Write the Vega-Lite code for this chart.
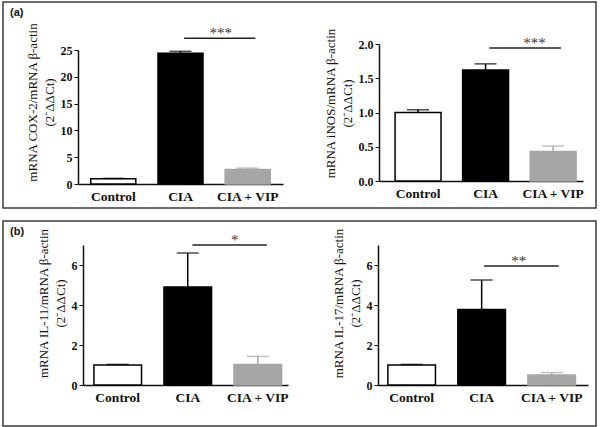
{
  "$schema": "https://vega.github.io/schema/vega-lite/v6.json",
  "padding": {"left": 2, "top": 1, "right": 0, "bottom": 0},
  "spacing": 11,
  "background": "white",
  "datasets": {
    "bars": [
      {"chart": "COX-2", "group": "Control", "value": 1.0, "err": 1.05},
      {"chart": "COX-2", "group": "CIA", "value": 24.4, "err": 24.75},
      {"chart": "COX-2", "group": "CIA + VIP", "value": 2.7, "err": 2.95},
      {"chart": "iNOS", "group": "Control", "value": 1.0, "err": 1.04},
      {"chart": "iNOS", "group": "CIA", "value": 1.62, "err": 1.71},
      {"chart": "iNOS", "group": "CIA + VIP", "value": 0.43, "err": 0.51},
      {"chart": "IL-11", "group": "Control", "value": 1.0, "err": 1.03},
      {"chart": "IL-11", "group": "CIA", "value": 4.9, "err": 6.6},
      {"chart": "IL-11", "group": "CIA + VIP", "value": 1.02, "err": 1.43},
      {"chart": "IL-17", "group": "Control", "value": 1.0, "err": 1.03},
      {"chart": "IL-17", "group": "CIA", "value": 3.78, "err": 5.25},
      {"chart": "IL-17", "group": "CIA + VIP", "value": 0.5, "err": 0.62}
    ],
    "sig": [
      {"chart": "COX-2", "from": "CIA", "to": "CIA + VIP", "level": 27.2, "label": "***"},
      {"chart": "iNOS", "from": "CIA", "to": "CIA + VIP", "level": 1.94, "label": "***"},
      {"chart": "IL-11", "from": "CIA", "to": "CIA + VIP", "level": 7.0, "label": "*"},
      {"chart": "IL-17", "from": "CIA", "to": "CIA + VIP", "level": 5.95, "label": "**"}
    ]
  },
  "config": {
    "font": "Liberation Serif",
    "view": {"stroke": "#3a3a3a", "strokeWidth": 1.5},
    "axis": {"grid": false, "domainColor": "#111111", "domainWidth": 1.5, "tickColor": "#111111", "tickWidth": 1, "labelFont": "Liberation Serif", "labelFontWeight": "bold", "labelColor": "#111111", "titleFont": "Liberation Serif", "titleFontWeight": "normal", "titleColor": "#111111"},
    "axisX": {"ticks": false, "labelFontSize": 13.5, "labelPadding": 5, "labelAngle": 0},
    "axisY": {"tickSize": 4, "labelFontSize": 12, "labelPadding": 2, "titleFontSize": 13, "titleLineHeight": 17, "titlePadding": 4}
  },
  "vconcat": [
    {
      "width": 593,
      "height": 206,
      "title": {"text": "(a)", "anchor": "start", "frame": "group", "offset": -16, "dx": 7, "font": "Liberation Sans", "fontSize": 11, "fontWeight": "bold", "color": "#111111"},
      "resolve": {"scale": {"x": "independent", "y": "independent"}},
      "layer": [
        {
          "data": {"name": "bars"},
          "transform": [{"filter": "datum.chart == 'COX-2'"}],
          "mark": {"type": "bar", "strokeWidth": 1.5},
          "encoding": {
            "x": {"field": "group", "type": "nominal", "title": null, "scale": {"domain": ["Control", "CIA", "CIA + VIP"], "range": [75, 280], "paddingInner": 0.33, "paddingOuter": 0.19, "align": 0.5}, "axis": {"orient": "bottom", "offset": -24}},
            "y": {"field": "value", "type": "quantitative", "scale": {"domain": [0, 25], "range": [182, 48], "nice": false}, "axis": {"orient": "left", "offset": -75, "values": [0, 5, 10, 15, 20, 25], "title": ["mRNA COX-2/mRNA β-actin", "(2⁻ΔΔCt)"], "titleY": 100}},
            "fill": {"field": "group", "type": "nominal", "scale": {"domain": ["Control", "CIA", "CIA + VIP"], "range": ["#ffffff", "#000000", "#a6a6a6"]}, "legend": null},
            "stroke": {"field": "group", "type": "nominal", "scale": {"domain": ["Control", "CIA", "CIA + VIP"], "range": ["#000000", "#000000", "#a6a6a6"]}, "legend": null}
          }
        },
        {
          "data": {"name": "bars"},
          "transform": [{"filter": "datum.chart == 'COX-2'"}],
          "mark": {"type": "rule", "strokeWidth": 1.5},
          "encoding": {
            "x": {"field": "group", "type": "nominal", "scale": {"domain": ["Control", "CIA", "CIA + VIP"], "range": [75, 280], "paddingInner": 0.33, "paddingOuter": 0.19, "align": 0.5}, "axis": null},
            "y": {"field": "value", "type": "quantitative", "scale": {"domain": [0, 25], "range": [182, 48], "nice": false}, "axis": null},
            "y2": {"field": "err"},
            "stroke": {"field": "group", "type": "nominal", "legend": null}
          }
        },
        {
          "data": {"name": "bars"},
          "transform": [{"filter": "datum.chart == 'COX-2'"}],
          "mark": {"type": "tick", "size": 22, "thickness": 1.5, "orient": "horizontal"},
          "encoding": {
            "x": {"field": "group", "type": "nominal", "scale": {"domain": ["Control", "CIA", "CIA + VIP"], "range": [75, 280], "paddingInner": 0.33, "paddingOuter": 0.19, "align": 0.5}, "axis": null},
            "y": {"field": "err", "type": "quantitative", "scale": {"domain": [0, 25], "range": [182, 48], "nice": false}, "axis": null},
            "color": {"field": "group", "type": "nominal", "scale": {"domain": ["Control", "CIA", "CIA + VIP"], "range": ["#000000", "#000000", "#a6a6a6"]}, "legend": null}
          }
        },
        {
          "data": {"name": "sig"},
          "transform": [{"filter": "datum.chart == 'COX-2'"}],
          "mark": {"type": "rule", "strokeWidth": 1.5, "color": "#222222"},
          "encoding": {
            "x": {"field": "from", "type": "nominal", "bandPosition": 0.58, "scale": {"domain": ["Control", "CIA", "CIA + VIP"], "range": [75, 280], "paddingInner": 0.33, "paddingOuter": 0.19, "align": 0.5}, "axis": null},
            "x2": {"field": "to", "bandPosition": 0.67},
            "y": {"field": "level", "type": "quantitative", "scale": {"domain": [0, 25], "range": [182, 48], "nice": false}, "axis": null}
          }
        },
        {
          "data": {"name": "sig"},
          "transform": [{"filter": "datum.chart == 'COX-2'"}],
          "mark": {"type": "text", "font": "Liberation Serif", "fontSize": 15, "color": "#333333", "baseline": "alphabetic", "align": "center"},
          "encoding": {
            "x": {"field": "to", "type": "nominal", "scale": {"domain": ["Control", "CIA", "CIA + VIP"], "range": [75, 280], "paddingInner": 0.33, "paddingOuter": 0.19, "align": 0.5}, "axis": null},
            "xOffset": {"value": -28},
            "y": {"field": "level", "type": "quantitative", "scale": {"domain": [0, 25], "range": [182, 48], "nice": false}, "axis": null},
            "text": {"field": "label"}
          }
        },
        {
          "data": {"name": "bars"},
          "transform": [{"filter": "datum.chart == 'iNOS'"}],
          "mark": {"type": "bar", "strokeWidth": 1.5},
          "encoding": {
            "x": {"field": "group", "type": "nominal", "title": null, "scale": {"domain": ["Control", "CIA", "CIA + VIP"], "range": [376, 580], "paddingInner": 0.32, "paddingOuter": 0.17, "align": 0.7}, "axis": {"orient": "bottom", "offset": -27}},
            "y": {"field": "value", "type": "quantitative", "scale": {"domain": [0, 2], "range": [179, 42], "nice": false}, "axis": {"orient": "left", "offset": -376, "values": [0, 0.5, 1, 1.5, 2], "format": ".1f", "title": ["mRNA iNOS/mRNA β-actin", "(2⁻ΔΔCt)"], "titleY": 101}},
            "fill": {"field": "group", "type": "nominal", "legend": null},
            "stroke": {"field": "group", "type": "nominal", "legend": null}
          }
        },
        {
          "data": {"name": "bars"},
          "transform": [{"filter": "datum.chart == 'iNOS'"}],
          "mark": {"type": "rule", "strokeWidth": 1.5},
          "encoding": {
            "x": {"field": "group", "type": "nominal", "scale": {"domain": ["Control", "CIA", "CIA + VIP"], "range": [376, 580], "paddingInner": 0.32, "paddingOuter": 0.17, "align": 0.7}, "axis": null},
            "y": {"field": "value", "type": "quantitative", "scale": {"domain": [0, 2], "range": [179, 42], "nice": false}, "axis": null},
            "y2": {"field": "err"},
            "stroke": {"field": "group", "type": "nominal", "legend": null}
          }
        },
        {
          "data": {"name": "bars"},
          "transform": [{"filter": "datum.chart == 'iNOS'"}],
          "mark": {"type": "tick", "size": 22, "thickness": 1.5, "orient": "horizontal"},
          "encoding": {
            "x": {"field": "group", "type": "nominal", "scale": {"domain": ["Control", "CIA", "CIA + VIP"], "range": [376, 580], "paddingInner": 0.32, "paddingOuter": 0.17, "align": 0.7}, "axis": null},
            "y": {"field": "err", "type": "quantitative", "scale": {"domain": [0, 2], "range": [179, 42], "nice": false}, "axis": null},
            "color": {"field": "group", "type": "nominal", "legend": null}
          }
        },
        {
          "data": {"name": "sig"},
          "transform": [{"filter": "datum.chart == 'iNOS'"}],
          "mark": {"type": "rule", "strokeWidth": 1.5, "color": "#222222"},
          "encoding": {
            "x": {"field": "from", "type": "nominal", "bandPosition": 0.58, "scale": {"domain": ["Control", "CIA", "CIA + VIP"], "range": [376, 580], "paddingInner": 0.32, "paddingOuter": 0.17, "align": 0.7}, "axis": null},
            "x2": {"field": "to", "bandPosition": 0.67},
            "y": {"field": "level", "type": "quantitative", "scale": {"domain": [0, 2], "range": [179, 42], "nice": false}, "axis": null}
          }
        },
        {
          "data": {"name": "sig"},
          "transform": [{"filter": "datum.chart == 'iNOS'"}],
          "mark": {"type": "text", "font": "Liberation Serif", "fontSize": 15, "color": "#333333", "baseline": "alphabetic", "align": "center"},
          "encoding": {
            "x": {"field": "to", "type": "nominal", "scale": {"domain": ["Control", "CIA", "CIA + VIP"], "range": [376, 580], "paddingInner": 0.32, "paddingOuter": 0.17, "align": 0.7}, "axis": null},
            "xOffset": {"value": -28},
            "y": {"field": "level", "type": "quantitative", "scale": {"domain": [0, 2], "range": [179, 42], "nice": false}, "axis": null},
            "text": {"field": "label"}
          }
        }
      ]
    },
    {
      "width": 593,
      "height": 205,
      "title": {"text": "(b)", "anchor": "start", "frame": "group", "offset": -16, "dx": 7, "font": "Liberation Sans", "fontSize": 11, "fontWeight": "bold", "color": "#111111"},
      "resolve": {"scale": {"x": "independent", "y": "independent"}},
      "layer": [
        {
          "data": {"name": "bars"},
          "transform": [{"filter": "datum.chart == 'IL-11'"}],
          "mark": {"type": "bar", "strokeWidth": 1.5},
          "encoding": {
            "x": {"field": "group", "type": "nominal", "title": null, "scale": {"domain": ["Control", "CIA", "CIA + VIP"], "range": [80, 285], "paddingInner": 0.32, "paddingOuter": 0.124, "align": 0.63}, "axis": {"orient": "bottom", "offset": -41}},
            "y": {"field": "value", "type": "quantitative", "scale": {"domain": [0, 7], "range": [164, 24], "nice": false}, "axis": {"orient": "left", "offset": -80, "values": [0, 2, 4, 6], "title": ["mRNA IL-11/mRNA β-actin", "(2⁻ΔΔCt)"], "titleY": 82}},
            "fill": {"field": "group", "type": "nominal", "scale": {"domain": ["Control", "CIA", "CIA + VIP"], "range": ["#ffffff", "#000000", "#a6a6a6"]}, "legend": null},
            "stroke": {"field": "group", "type": "nominal", "scale": {"domain": ["Control", "CIA", "CIA + VIP"], "range": ["#000000", "#000000", "#a6a6a6"]}, "legend": null}
          }
        },
        {
          "data": {"name": "bars"},
          "transform": [{"filter": "datum.chart == 'IL-11'"}],
          "mark": {"type": "rule", "strokeWidth": 1.5},
          "encoding": {
            "x": {"field": "group", "type": "nominal", "scale": {"domain": ["Control", "CIA", "CIA + VIP"], "range": [80, 285], "paddingInner": 0.32, "paddingOuter": 0.124, "align": 0.63}, "axis": null},
            "y": {"field": "value", "type": "quantitative", "scale": {"domain": [0, 7], "range": [164, 24], "nice": false}, "axis": null},
            "y2": {"field": "err"},
            "stroke": {"field": "group", "type": "nominal", "legend": null}
          }
        },
        {
          "data": {"name": "bars"},
          "transform": [{"filter": "datum.chart == 'IL-11'"}],
          "mark": {"type": "tick", "size": 22, "thickness": 1.5, "orient": "horizontal"},
          "encoding": {
            "x": {"field": "group", "type": "nominal", "scale": {"domain": ["Control", "CIA", "CIA + VIP"], "range": [80, 285], "paddingInner": 0.32, "paddingOuter": 0.124, "align": 0.63}, "axis": null},
            "y": {"field": "err", "type": "quantitative", "scale": {"domain": [0, 7], "range": [164, 24], "nice": false}, "axis": null},
            "color": {"field": "group", "type": "nominal", "scale": {"domain": ["Control", "CIA", "CIA + VIP"], "range": ["#000000", "#000000", "#a6a6a6"]}, "legend": null}
          }
        },
        {
          "data": {"name": "sig"},
          "transform": [{"filter": "datum.chart == 'IL-11'"}],
          "mark": {"type": "rule", "strokeWidth": 1.5, "color": "#222222"},
          "encoding": {
            "x": {"field": "from", "type": "nominal", "bandPosition": 0.6, "scale": {"domain": ["Control", "CIA", "CIA + VIP"], "range": [80, 285], "paddingInner": 0.32, "paddingOuter": 0.124, "align": 0.63}, "axis": null},
            "x2": {"field": "to", "bandPosition": 0.69},
            "y": {"field": "level", "type": "quantitative", "scale": {"domain": [0, 7], "range": [164, 24], "nice": false}, "axis": null}
          }
        },
        {
          "data": {"name": "sig"},
          "transform": [{"filter": "datum.chart == 'IL-11'"}],
          "mark": {"type": "text", "font": "Liberation Serif", "fontSize": 15, "color": "#333333", "baseline": "alphabetic", "align": "center"},
          "encoding": {
            "x": {"field": "to", "type": "nominal", "scale": {"domain": ["Control", "CIA", "CIA + VIP"], "range": [80, 285], "paddingInner": 0.32, "paddingOuter": 0.124, "align": 0.63}, "axis": null},
            "xOffset": {"value": -28},
            "y": {"field": "level", "type": "quantitative", "scale": {"domain": [0, 7], "range": [164, 24], "nice": false}, "axis": null},
            "text": {"field": "label"}
          }
        },
        {
          "data": {"name": "bars"},
          "transform": [{"filter": "datum.chart == 'IL-17'"}],
          "mark": {"type": "bar", "strokeWidth": 1.5},
          "encoding": {
            "x": {"field": "group", "type": "nominal", "title": null, "scale": {"domain": ["Control", "CIA", "CIA + VIP"], "range": [375, 585], "paddingInner": 0.32, "paddingOuter": 0.16, "align": 0.44}, "axis": {"orient": "bottom", "offset": -41}},
            "y": {"field": "value", "type": "quantitative", "scale": {"domain": [0, 7], "range": [164, 24], "nice": false}, "axis": {"orient": "left", "offset": -375, "values": [0, 2, 4, 6], "title": ["mRNA IL-17/mRNA β-actin", "(2⁻ΔΔCt)"], "titleY": 82}},
            "fill": {"field": "group", "type": "nominal", "legend": null},
            "stroke": {"field": "group", "type": "nominal", "legend": null}
          }
        },
        {
          "data": {"name": "bars"},
          "transform": [{"filter": "datum.chart == 'IL-17'"}],
          "mark": {"type": "rule", "strokeWidth": 1.5},
          "encoding": {
            "x": {"field": "group", "type": "nominal", "scale": {"domain": ["Control", "CIA", "CIA + VIP"], "range": [375, 585], "paddingInner": 0.32, "paddingOuter": 0.16, "align": 0.44}, "axis": null},
            "y": {"field": "value", "type": "quantitative", "scale": {"domain": [0, 7], "range": [164, 24], "nice": false}, "axis": null},
            "y2": {"field": "err"},
            "stroke": {"field": "group", "type": "nominal", "legend": null}
          }
        },
        {
          "data": {"name": "bars"},
          "transform": [{"filter": "datum.chart == 'IL-17'"}],
          "mark": {"type": "tick", "size": 22, "thickness": 1.5, "orient": "horizontal"},
          "encoding": {
            "x": {"field": "group", "type": "nominal", "scale": {"domain": ["Control", "CIA", "CIA + VIP"], "range": [375, 585], "paddingInner": 0.32, "paddingOuter": 0.16, "align": 0.44}, "axis": null},
            "y": {"field": "err", "type": "quantitative", "scale": {"domain": [0, 7], "range": [164, 24], "nice": false}, "axis": null},
            "color": {"field": "group", "type": "nominal", "legend": null}
          }
        },
        {
          "data": {"name": "sig"},
          "transform": [{"filter": "datum.chart == 'IL-17'"}],
          "mark": {"type": "rule", "strokeWidth": 1.5, "color": "#222222"},
          "encoding": {
            "x": {"field": "from", "type": "nominal", "bandPosition": 0.55, "scale": {"domain": ["Control", "CIA", "CIA + VIP"], "range": [375, 585], "paddingInner": 0.32, "paddingOuter": 0.16, "align": 0.44}, "axis": null},
            "x2": {"field": "to", "bandPosition": 0.65},
            "y": {"field": "level", "type": "quantitative", "scale": {"domain": [0, 7], "range": [164, 24], "nice": false}, "axis": null}
          }
        },
        {
          "data": {"name": "sig"},
          "transform": [{"filter": "datum.chart == 'IL-17'"}],
          "mark": {"type": "text", "font": "Liberation Serif", "fontSize": 15, "color": "#333333", "baseline": "alphabetic", "align": "center"},
          "encoding": {
            "x": {"field": "to", "type": "nominal", "scale": {"domain": ["Control", "CIA", "CIA + VIP"], "range": [375, 585], "paddingInner": 0.32, "paddingOuter": 0.16, "align": 0.44}, "axis": null},
            "xOffset": {"value": -30},
            "y": {"field": "level", "type": "quantitative", "scale": {"domain": [0, 7], "range": [164, 24], "nice": false}, "axis": null},
            "text": {"field": "label"}
          }
        }
      ]
    }
  ]
}
